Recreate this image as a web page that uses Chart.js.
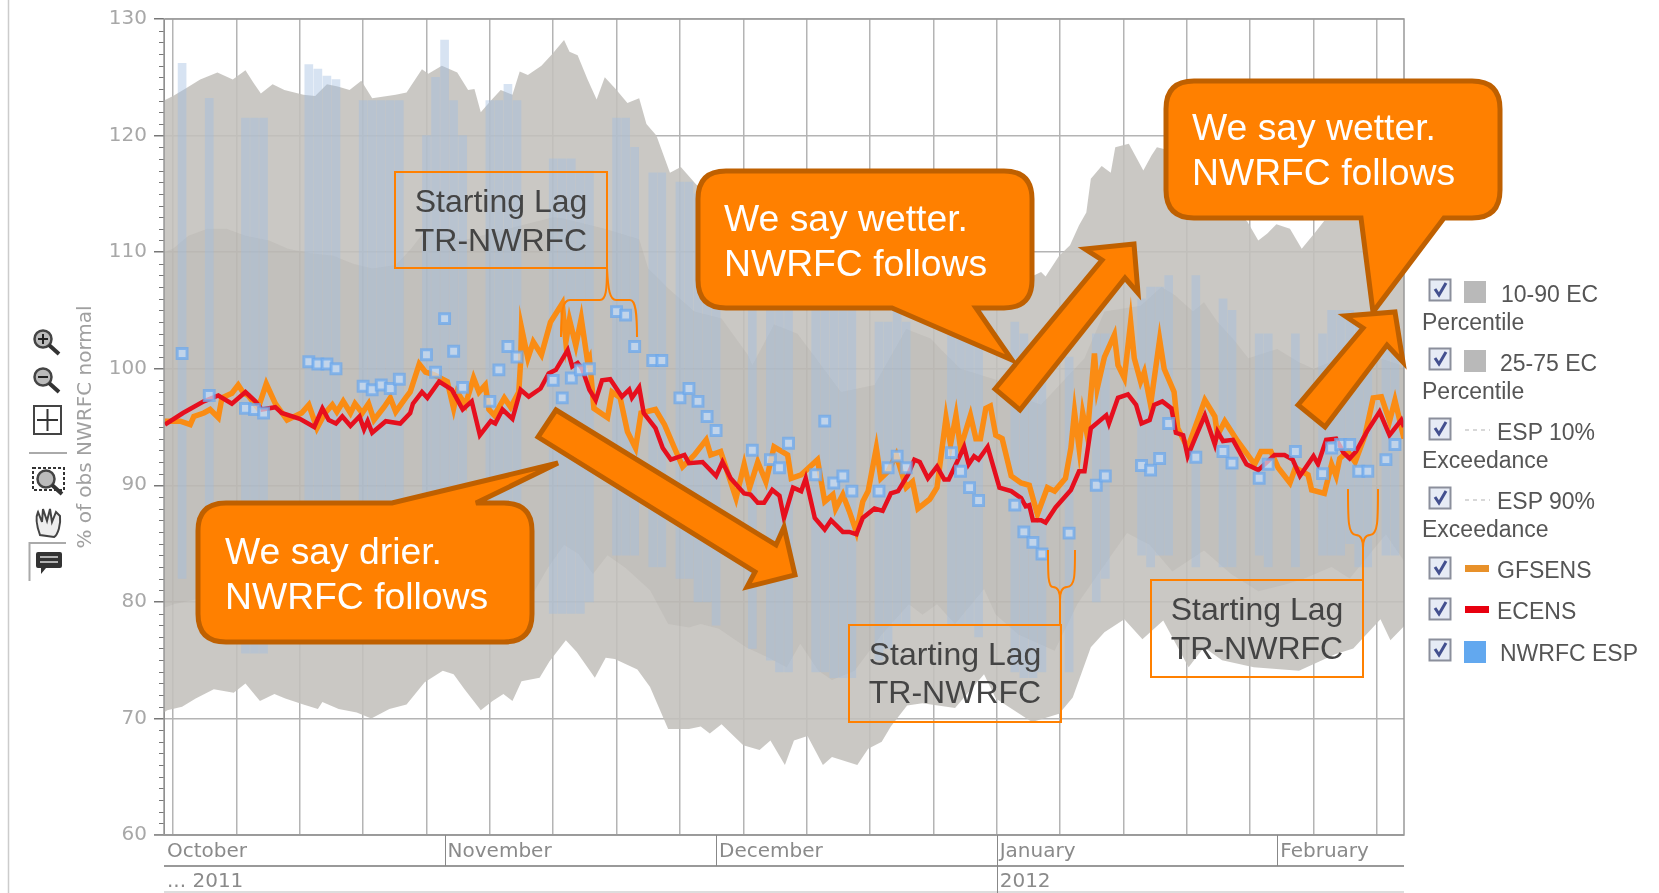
<!DOCTYPE html>
<html>
<head>
<meta charset="utf-8">
<title>% of obs NWRFC normal</title>
<script src="https://cdn.jsdelivr.net/npm/chart.js@4"></script>
<style>
  html, body { margin: 0; padding: 0; background: #fff; overflow: hidden; }
  #wrap { position: relative; width: 1659px; height: 893px; }
  #chart { position: absolute; left: 0; top: 0; filter: blur(0.6px); }
  #notes { position: absolute; left: 0; top: 0; }
  #notes text { font-family: "Liberation Sans", Arial, sans-serif; }
  .say { fill: #fff; font-size: 37.3px; }
  .lag { fill: #444; font-size: 32px; text-anchor: middle; }
  .leg { fill: #555; font-size: 23px; }
  .callout { fill: #ff8000; stroke: #bf6000; stroke-width: 5; stroke-linejoin: miter; }
  .lagbox { fill: none; stroke: #ff8000; stroke-width: 2; }
  .icon { fill: none; stroke: #444; stroke-width: 2; }
</style>
</head>
<body>
<div id="wrap">
<canvas id="chart" width="1659" height="893"></canvas>
<svg id="notes" width="1659" height="893" viewBox="0 0 1659 893">
  <defs>
    <g id="cb">
      <rect x="0.5" y="0.5" width="21" height="21" fill="#e6ebf5" stroke="#8b8f9c" stroke-width="2"/>
      <path d="M6 10 L10 16 L17 4" fill="none" stroke="#43508f" stroke-width="3"/>
    </g>
    <g id="lens">
      <circle cx="0" cy="0" r="8.5" fill="#bbb" stroke="#444" stroke-width="2.5"/>
      <path d="M6 6 L16 15" stroke="#333" stroke-width="4"/>
    </g>
  </defs>

  <!-- left rule and toolbar -->
  <path d="M8.5 0 V893" stroke="#ccc" stroke-width="1.5"/>
  <use href="#lens" x="43" y="339"/><path d="M38 339 H48 M43 334 V344" stroke="#222" stroke-width="2"/>
  <use href="#lens" x="43" y="377"/><path d="M38 377 H48" stroke="#222" stroke-width="2"/>
  <rect class="icon" x="34" y="406" width="27" height="28"/>
  <path d="M37 420 H58 M47.5 409 V431" stroke="#333" stroke-width="2"/>
  <path d="M29 453 H67" stroke="#aaa" stroke-width="2"/>
  <rect x="33" y="468" width="31" height="22" fill="none" stroke="#333" stroke-width="2" stroke-dasharray="3 2"/>
  <use href="#lens" x="46" y="479"/>
  <path d="M40 535 C36 524 36 516 38 512 L42 522 L43 509 L47 521 L50 509 L52 522 L56 512 L60 516 C61 524 58 535 54 537 Z" fill="#eee" stroke="#444" stroke-width="2"/>
  <path d="M66 543 H29.5 V581" fill="none" stroke="#aaa" stroke-width="2"/>
  <path d="M38 552 H60 Q62 552 62 554 V566 Q62 568 60 568 H46 L41 574 V568 H38 Q36 568 36 566 V554 Q36 552 38 552 Z" fill="#333"/>
  <path d="M40 557 H58 M40 562 H58" stroke="#ddd" stroke-width="1.5"/>

  <!-- lag brackets and boxes -->
  <g fill="none" stroke="#ff8000" stroke-width="2">
    <path d="M607 268 C607 290 606 300 600 300 H570 C563 300 561 310 561 337"/>
    <path d="M607 268 C608 290 610 300 616 300 H630 C636 300 637 315 637 337"/>
    <path d="M1060 625 V600 C1060 592 1058 587 1053 587 C1048 587 1048 575 1048 550"/>
    <path d="M1060 625 V600 C1060 592 1062 587 1067 587 C1075 587 1075 575 1075 550"/>
    <path d="M1363 580 V548 C1363 540 1361 535 1356 535 C1348 535 1348 520 1348 489"/>
    <path d="M1363 580 V548 C1363 540 1365 535 1370 535 C1378 535 1378 520 1378 489"/>
  </g>
  <rect class="lagbox" x="395" y="172" width="212" height="96"/>
  <text class="lag" x="501" y="212">Starting Lag</text>
  <text class="lag" x="501" y="251">TR-NWRFC</text>
  <rect class="lagbox" x="849" y="625" width="212" height="97"/>
  <text class="lag" x="955" y="665">Starting Lag</text>
  <text class="lag" x="955" y="703">TR-NWRFC</text>
  <rect class="lagbox" x="1151" y="580" width="212" height="97"/>
  <text class="lag" x="1257" y="620">Starting Lag</text>
  <text class="lag" x="1257" y="659">TR-NWRFC</text>

  <!-- callouts -->
  <path class="callout" d="M726 171 H1004 Q1032 171 1032 199 V280 Q1032 308 1004 308 H976 L1012 360 L892 308 H726 Q698 308 698 280 V199 Q698 171 726 171 Z"/>
  <text class="say" x="724" y="231">We say wetter.</text>
  <text class="say" x="724" y="276">NWRFC follows</text>
  <path class="callout" d="M1194 81 H1472 Q1500 81 1500 109 V190 Q1500 218 1472 218 H1444 L1373 312 L1361 218 H1194 Q1166 218 1166 190 V109 Q1166 81 1194 81 Z"/>
  <text class="say" x="1192" y="140">We say wetter.</text>
  <text class="say" x="1192" y="185">NWRFC follows</text>
  <path class="callout" d="M226 503 H392 L558 463 L476 503 H504 Q532 503 532 531 V614 Q532 642 504 642 H226 Q198 642 198 614 V531 Q198 503 226 503 Z"/>
  <text class="say" x="225" y="564">We say drier.</text>
  <text class="say" x="225" y="609">NWRFC follows</text>

  <!-- big arrows -->
  <path class="callout" d="M556 410 L776 545 L784 527 L795 575 L747 587 L755 572 L538 437 Z"/>
  <path class="callout" d="M995 389 L1102 260 L1085 249 L1134 244 L1138 293 L1125 278 L1020 410 Z"/>
  <path class="callout" d="M1298 405 L1363 328 L1345 316 L1395 312 L1403 362 L1387 345 L1325 427 Z"/>

  <!-- legend -->
  <use href="#cb" x="1429" y="279"/>
  <rect x="1464" y="281" width="22" height="22" fill="#b9b9b9"/>
  <text class="leg" x="1501" y="302">10-90 EC</text>
  <text class="leg" x="1422" y="330">Percentile</text>
  <use href="#cb" x="1429" y="348"/>
  <rect x="1464" y="350" width="22" height="22" fill="#b9b9b9"/>
  <text class="leg" x="1500" y="371">25-75 EC</text>
  <text class="leg" x="1422" y="399">Percentile</text>
  <use href="#cb" x="1429" y="418"/>
  <path d="M1465 430 H1490" stroke="#ccc" stroke-width="1.5" stroke-dasharray="4 4"/>
  <text class="leg" x="1497" y="440">ESP 10%</text>
  <text class="leg" x="1422" y="468">Exceedance</text>
  <use href="#cb" x="1429" y="487"/>
  <path d="M1465 500 H1490" stroke="#ccc" stroke-width="1.5" stroke-dasharray="4 4"/>
  <text class="leg" x="1497" y="509">ESP 90%</text>
  <text class="leg" x="1422" y="537">Exceedance</text>
  <use href="#cb" x="1429" y="557"/>
  <rect x="1465" y="565" width="24" height="7" fill="#e8912a"/>
  <text class="leg" x="1497" y="578">GFSENS</text>
  <use href="#cb" x="1429" y="598"/>
  <rect x="1465" y="606" width="24" height="7" fill="#e8000f"/>
  <text class="leg" x="1497" y="619">ECENS</text>
  <use href="#cb" x="1429" y="639"/>
  <rect x="1464" y="641" width="22" height="22" fill="#62a8ef"/>
  <text class="leg" x="1500" y="661">NWRFC ESP</text>
</svg>
</div>

<script>
// days are counted from 1 October 2011
const axisMaxDay = 137;
const weekDays = [1, 8, 15, 22, 29, 36, 43, 50, 57, 64, 71, 78, 85, 92, 99, 106, 113, 120, 127, 134];
const monthDays = [0, 31, 61, 92, 123];
const monthNames = ['October', 'November', 'December', 'January', 'February'];
const yearDays = [0, 92];
const yearNames = ['... 2011', '2012'];

// 10-90 EC Percentile
const p90Days = [0, 1, 2.3, 4, 5.9, 7.6, 9, 9.9, 10.7, 12, 13.3, 15.4, 16.7, 18, 19.2, 20.5, 21.8, 23, 25.6, 26.8, 28.5, 29.2, 30.7, 32.4, 33.6, 34.3, 35, 36, 37.2, 38.5, 39.3, 40.2, 41.7, 42.9, 44.2, 44.8, 45.7, 46.8, 47.8, 48.7, 49.9, 51.2, 52.5, 53.3, 54.4, 55.9, 57.1, 58.8, 62, 66, 70, 74, 78, 82, 86, 90, 93, 96.1, 96.9, 97.4, 98.9, 100.1, 101.1, 101.9, 102.4, 103.6, 104.6, 105.1, 106.6, 108.2, 109.1, 109.7, 110.7, 113, 116, 118, 119.7, 120.9, 121.9, 122.9, 124.4, 125.7, 127.2, 128.2, 132, 135, 137];
const p90Vals = [123, 123.4, 124, 124.8, 125.4, 124.8, 125.6, 124.5, 123.6, 124.4, 123.9, 123.5, 123.4, 124.4, 124.2, 123.9, 124.7, 123.2, 123.5, 123.7, 125.7, 125.3, 126, 125.4, 123.9, 124, 122, 122.9, 123.9, 123.5, 125.5, 125.2, 126, 127, 128.2, 127.2, 126.9, 124.8, 123.1, 125, 124, 122.8, 123.2, 121, 120, 116.8, 117.3, 115.8, 114, 112, 111, 111, 110, 110, 109, 108, 108, 108, 108.3, 107.9, 109.7, 110.6, 112.3, 113.4, 116.3, 117.4, 116.8, 119, 119.3, 117, 118.3, 119, 118.8, 117, 115, 114, 112.6, 111, 111.6, 112.4, 112, 110.3, 111.7, 112.7, 112.7, 112, 111.5];
const p10Days = [0, 0.35, 2, 3.5, 5.5, 7.7, 9, 10.6, 12.2, 13.4, 15.4, 17, 17.5, 19.3, 21.3, 22.9, 24.9, 26.8, 28.8, 30.8, 32, 33.2, 35, 36.3, 37.5, 38.5, 39.5, 41.5, 42.6, 44.4, 45.6, 47.6, 48.8, 49.8, 52.3, 53.7, 55.7, 58, 59.3, 60.3, 61.6, 64, 65.8, 67, 68.6, 69.6, 71.1, 72.8, 73.8, 76.6, 77.8, 79.3, 80.3, 82.1, 83.8, 87.4, 90.6, 91.9, 95.9, 98.9, 100.4, 102.4, 103.9, 106.1, 108.1, 110.4, 113.2, 114.9, 116.9, 120.4, 125.4, 129.4, 131.4, 134.4, 135.5, 137];
const p10Vals = [70.5, 70.7, 71, 71.7, 72.5, 72.2, 73, 71.5, 72.1, 71.7, 71.2, 70.8, 71.4, 70.8, 70.5, 70, 70.8, 71.2, 73.1, 74.1, 73.8, 72.5, 70.7, 71.5, 72.1, 71.5, 73.2, 73.5, 74.9, 76.7, 75.7, 73.5, 75.2, 75.1, 74.2, 72.7, 69.1, 69.1, 69.3, 68.7, 69.5, 67.7, 67.3, 68.1, 66, 68.1, 68.5, 66, 66.7, 66, 67.4, 68, 69.3, 71.1, 71.3, 70.9, 73.8, 71.7, 69.7, 70.4, 71.8, 76.1, 77.4, 78.5, 76.8, 78.4, 74.4, 76.1, 75, 74.4, 74.1, 75.5, 76, 78.5, 76.7, 77.9];

// 25-75 EC Percentile
const p75Days = [0, 1, 2.7, 4.8, 6.9, 9, 11.6, 13.7, 16.2, 18.7, 20.9, 23, 25.6, 27.3, 29, 33, 38, 43, 44, 48.7, 52.5, 53.5, 55.7, 58.6, 61.6, 64.5, 65, 67.4, 70, 74.8, 78.5, 82, 84.7, 85.8, 88, 92.1, 93, 96.9, 101.7, 103.9, 107.9, 110.2, 111.7, 113.7, 114.9, 116.4, 118.4, 119.8, 123, 125.3, 127, 132, 136.7, 137];
const p75Vals = [110, 110.3, 111.4, 112, 112, 111.4, 111, 110.3, 109.9, 109.7, 109, 108.6, 108.9, 110.3, 112, 111, 112, 113, 112.9, 112, 111.1, 108.6, 106.9, 104.9, 104.3, 101.2, 100.3, 103.8, 103, 98, 98.6, 103.4, 102.6, 101.7, 100, 99, 98, 96.9, 100.9, 104.9, 105.4, 107, 106.3, 104.9, 105.7, 104, 102.3, 100.9, 101.7, 100.6, 100, 101.5, 100.3, 100];
const p25Days = [0, 1.1, 8, 15, 22, 30, 36, 40.7, 42.4, 44.2, 45.8, 47.4, 49, 51, 53.7, 55.7, 58, 59.3, 61.3, 64.3, 66.8, 68.8, 70.3, 72.3, 73.8, 76.3, 79.3, 82.3, 83.8, 85.4, 87.4, 90.6, 91.9, 94.4, 98.4, 100.9, 103.4, 106.4, 108.9, 111.4, 114.9, 117.9, 120.9, 124, 126, 129, 131, 135, 137];
const p25Vals = [79.5, 79.8, 81, 80.5, 80, 81, 80.5, 80.6, 82.9, 84.9, 84.1, 82.4, 84, 82.9, 81, 78.1, 77.8, 78.1, 77.7, 76.1, 75.2, 74.4, 76.4, 74.1, 73.3, 74.1, 77.2, 79.8, 78.9, 79.8, 78.1, 81.1, 78.9, 77.2, 75.8, 79.8, 82.6, 85.9, 84.9, 82.6, 84.4, 82.4, 80.9, 81.5, 82, 83, 82, 85.8, 83.5];

// NWRFC ESP trace with its 10% and 90% exceedance
const espDays = [2, 5, 9, 10, 11, 16, 17, 18, 19, 22, 23, 24, 25, 26, 29, 30, 31, 32, 33, 36, 37, 38, 39, 43, 44, 45, 46, 47, 50, 51, 52, 54, 55, 57, 58, 59, 60, 61, 65, 67, 68, 69, 72, 73, 74, 75, 76, 79, 80, 81, 82, 87, 88, 89, 90, 94, 95, 96, 97, 100, 103, 104, 108, 109, 110, 111, 114, 117, 118, 121, 122, 125, 128, 129, 130, 131, 132, 133, 135, 136];
const espVals = [101.3, 97.7, 96.6, 96.5, 96.2, 100.6, 100.4, 100.4, 100, 98.5, 98.2, 98.6, 98.3, 99.1, 101.2, 99.7, 104.3, 101.5, 98.4, 97.2, 99.9, 101.9, 101, 99, 97.5, 99.2, 99.9, 100, 104.9, 104.6, 101.9, 100.7, 100.7, 97.5, 98.3, 97.2, 95.9, 94.7, 93, 92.2, 91.5, 93.6, 90.9, 95.5, 90.2, 90.8, 89.5, 89.5, 91.5, 92.5, 91.5, 92.8, 91.2, 89.8, 88.7, 88.3, 86, 85.1, 84.1, 85.9, 90, 90.8, 91.7, 91.3, 92.3, 95.3, 92.4, 92.9, 91.9, 90.6, 91.8, 92.9, 91, 93.2, 93.5, 93.5, 91.2, 91.2, 92.2, 93.5];
const espHigh = [126.2, 123.2, 121.5, 121.5, 121.5, 126.1, 125.7, 125.1, 124.8, 123, 123, 123, 123, 123, 120, 125, 128.2, 123, 120, 123, 123, 124.4, 123, 118, 118, 118, 117, 117, 121.5, 121.5, 119, 116.8, 116.8, 116, 116, 115, 112, 110, 108, 108, 106, 108, 106, 108, 106, 106, 105, 104, 104, 105, 104, 108, 108, 106, 105, 104, 103, 102, 100, 101, 103, 103, 106, 107, 107, 108, 108, 106, 105, 103, 103, 103, 103, 105, 105, 105, 104, 104, 104, 104];
const espLow = [82, 80, 75.6, 75.6, 75.6, 84, 84, 84, 83, 80, 80, 80, 80, 81, 84, 84, 84, 86, 85, 83, 83, 83, 83, 79, 79, 79, 79, 80, 84, 84, 84, 83, 83, 82, 82, 80, 80, 78, 76, 75, 74, 74, 74, 74, 73.5, 73.5, 73.5, 75, 76, 78, 78, 78, 78, 78, 77, 74, 73.5, 73.5, 74, 74, 80, 82, 84, 83, 84, 84, 83, 83, 83, 84, 83, 83, 84, 84, 84, 85, 83, 83, 84, 84];

// GFSENS
const gfsDays = [0.1, 1.8, 2.9, 3.3, 4.4, 5.1, 6, 6.4, 7.5, 8.2, 8.8, 9.3, 10.4, 11.3, 12.3, 13.6, 15.2, 16, 16.9, 17.8, 18.6, 19.1, 19.8, 20.6, 21.1, 21.9, 22.6, 23.2, 24.3, 25, 25.6, 26.7, 27.2, 28.2, 28.9, 29.8, 31.3, 32, 32.4, 33.3, 34.2, 34.8, 35.5, 35.9, 36.5, 37.6, 38.3, 39.2, 39.4, 39.5, 40.2, 40.8, 41.7, 42.7, 44, 44.4, 44.8, 45.5, 46.1, 46.8, 47, 47.5, 49, 49.5, 50.4, 51.2, 52.1, 52.7, 54.3, 55.3, 56.4, 57.3, 58.6, 59.9, 60.4, 61.5, 63.2, 64.1, 64.7, 65.6, 66.5, 67.4, 68.9, 69.3, 70.4, 72.2, 73, 73.9, 74.2, 75, 75.7, 76.5, 77.2, 77.8, 78.7, 79.2, 80, 80.9, 82, 82.7, 83.3, 84.6, 85.4, 86.4, 86.9, 87.5, 88, 89.1, 89.7, 90.2, 90.8, 91.3, 91.9, 92.6, 93.6, 94.7, 95.6, 96.5, 97.6, 98.4, 99.6, 100.2, 100.6, 101.1, 101.5, 102, 102.8, 103.1, 103.9, 105, 105.4, 106.1, 106.8, 107.2, 107.9, 108.3, 109, 110, 110.5, 111.6, 112, 113.1, 115, 116.1, 116.4, 117.2, 118.6, 120.5, 121.2, 122.3, 123.1, 124.4, 125, 126.4, 126.8, 128.2, 129, 129.5, 129.9, 130.8, 131.6, 132.7, 133.6, 134.5, 135.4, 136, 137];
const gfsVals = [95.5, 95.5, 95.2, 95.9, 96.2, 96.5, 95.8, 97.5, 97.9, 98.6, 97.9, 97.7, 96.6, 98.7, 97, 95.6, 96.2, 96.9, 94.9, 96.2, 96.9, 96.3, 97.2, 96.2, 97, 96.2, 97, 95.6, 96.7, 97.5, 96.3, 97.5, 98, 100.4, 99.7, 99.5, 98.9, 96.6, 98, 96.9, 99.2, 98, 98.6, 96.5, 96, 97.5, 96.7, 98, 100.6, 103.5, 100.9, 102.3, 101.2, 104, 105.6, 102.3, 104.2, 102, 104.3, 100.6, 100.9, 96.6, 95.8, 98, 97.5, 94.6, 93.2, 96.2, 96.5, 95.2, 93.2, 91.6, 92.6, 93.9, 92.6, 92.9, 88.9, 91.8, 89.8, 92, 90.3, 93.3, 92.6, 90.6, 90.9, 92.2, 88.6, 89.2, 88, 89.2, 87.8, 86, 88.6, 89.5, 93.2, 90.6, 91.2, 92.6, 89.8, 90.3, 88, 88.8, 89.8, 95.8, 93.5, 96, 93.2, 96, 94, 94, 96.6, 96.8, 94.3, 94, 90.8, 90.2, 90, 87.5, 89.8, 89.5, 90.6, 93.2, 96.3, 93.2, 96.2, 94.3, 101.3, 98.3, 101, 102.9, 100.3, 99.2, 104, 100.9, 98.9, 99.7, 96.9, 102.5, 100, 98, 94.9, 93.2, 97.3, 95.9, 94.3, 95.5, 93.8, 91.8, 92.9, 92.9, 91.5, 90.2, 91.5, 90.9, 89.6, 89.3, 91.8, 90.8, 92.3, 92.9, 92, 94.3, 97.5, 97.6, 95.5, 97.3, 94];

// ECENS
const ecDays = [0.1, 2.1, 4.4, 6, 7.5, 9, 10.1, 10.8, 12.3, 13, 15, 16.6, 17.5, 18.2, 19, 19.7, 20.6, 21.6, 22.1, 22.5, 23, 24.5, 26.1, 27.2, 27.5, 28.5, 29.1, 30.4, 31.8, 33, 34, 34.9, 36.1, 36.6, 37.4, 38.5, 39.4, 40.3, 41.6, 42.5, 43.3, 44.6, 45.1, 45.7, 46.2, 47, 47.7, 48.4, 49.3, 50.6, 51.4, 51.7, 52.5, 53, 54.3, 55.1, 56, 57.5, 58, 59.5, 61, 61.7, 62.6, 64.1, 64.8, 65.6, 66.3, 67.2, 68, 68.5, 69.5, 70.4, 70.9, 71.9, 73, 73.7, 75, 75.7, 76.5, 77.2, 78.5, 79.4, 80.3, 81.1, 82.2, 82.9, 83.5, 84.4, 85.4, 86.2, 86.7, 87.5, 88.4, 88.9, 89.5, 90, 91, 92.3, 93.6, 94.7, 95.2, 95.6, 96, 96.9, 97.4, 98.5, 100.2, 101.1, 101.7, 102.4, 104.1, 104.4, 105.4, 106.5, 107.4, 108, 108.9, 109.4, 110.3, 111.3, 111.8, 112.6, 113.1, 113.9, 115, 116.1, 116.4, 117, 118.1, 119.6, 120.9, 121.6, 122.7, 123.8, 124.7, 125.5, 127, 127.5, 128.4, 129.5, 130.3, 131, 131.7, 132.9, 134.3, 135.4, 136.7, 137];
const ecVals = [95.2, 96.2, 97.2, 97.7, 97, 98, 97.2, 96.5, 96.7, 96.2, 95.7, 95, 96.6, 95.6, 95.3, 95.9, 95.1, 95.9, 94.8, 95.5, 94.5, 95.5, 95.3, 96.2, 97, 98, 97.5, 98.9, 98.2, 96.5, 97.2, 94.3, 95.5, 95.3, 96.5, 95.7, 98.2, 97.6, 98.3, 99.6, 99.9, 101.6, 100.2, 100.5, 100, 98.2, 97.3, 99, 99.1, 97.6, 98.2, 97.5, 98.4, 96.2, 94.9, 93.2, 92.2, 92.6, 91.9, 92, 90.8, 92, 90.6, 89.3, 89.2, 88.5, 88.5, 89.6, 89.1, 87.2, 89.8, 89.5, 90.6, 87.2, 86.2, 87, 86, 86, 85.8, 87.2, 88, 87.8, 89.3, 89.5, 90.9, 92.2, 92, 90.6, 91.6, 90.5, 90.5, 91.8, 93.3, 91.8, 92.5, 92.2, 93.3, 89.8, 89.5, 88.9, 88.2, 88.3, 87, 87, 86.8, 88.1, 89.6, 91.2, 91.2, 94.9, 96, 95.3, 97.5, 97.8, 96.9, 95.3, 95.6, 96.9, 97.2, 96.6, 94.5, 94.3, 92.5, 94, 96, 93.5, 94.6, 93.8, 93.9, 91.8, 91.3, 91.8, 92.6, 92.6, 92.2, 90.8, 92.5, 91.8, 93.9, 94, 92.8, 92.3, 92.9, 94.6, 96.3, 94.3, 95.6, 95];

const yTitle = '% of obs NWRFC normal';
const yMinorValues = [];
for (let v = 60; v <= 130; v++) if (v % 10) yMinorValues.push(v);

const toXY = (days, vals) => days.map((d, i) => ({ x: d, y: vals[i] }));
const bandLine = (label, days, vals, fill, color) => ({
    type: 'line', label, data: toXY(days, vals), fill, backgroundColor: color,
    borderWidth: 0, pointRadius: 0, tension: 0
});

// month and year rows: rules that Chart.js has no option for, plus the minor y ticks and frame
const framePlugin = {
    id: 'frame',
    afterDraw(chart) {
        const { ctx, chartArea: a, scales } = chart;
        const bottom = a.bottom + 31;
        ctx.save();
        ctx.strokeStyle = '#777';
        ctx.lineWidth = 1;
        yMinorValues.forEach(v => {
            const y = Math.round(scales.y.getPixelForValue(v)) + 0.5;
            ctx.beginPath(); ctx.moveTo(a.left - 5, y); ctx.lineTo(a.left, y); ctx.stroke();
        });
        ctx.strokeStyle = '#999';
        ctx.lineWidth = 1.5;
        ctx.strokeRect(a.left, a.top, a.right - a.left, a.bottom - a.top);
        ctx.beginPath(); ctx.moveTo(a.left - 10, a.bottom); ctx.lineTo(a.right, a.bottom); ctx.stroke();
        ctx.lineWidth = 2;
        ctx.strokeStyle = '#999';
        ctx.beginPath(); ctx.moveTo(a.left, bottom); ctx.lineTo(a.right, bottom); ctx.stroke();
        ctx.lineWidth = 1;
        ctx.strokeStyle = '#bbb';
        ctx.beginPath(); ctx.moveTo(a.left, 892); ctx.lineTo(a.right, 892); ctx.stroke();
        ctx.strokeStyle = '#888';
        monthDays.slice(1).forEach(d => {
            const x = Math.round(scales.xMonth.getPixelForValue(d)) + 0.5;
            ctx.beginPath(); ctx.moveTo(x, a.bottom); ctx.lineTo(x, bottom); ctx.stroke();
        });
        yearDays.slice(1).forEach(d => {
            const x = Math.round(scales.xYear.getPixelForValue(d)) + 0.5;
            ctx.beginPath(); ctx.moveTo(x, bottom); ctx.lineTo(x, 893); ctx.stroke();
        });
        ctx.restore();
    }
};

const labelAxis = (weight, height, days, names, padding) => ({
    type: 'linear', position: 'bottom', weight, min: 0, max: axisMaxDay, offset: false,
    grid: { display: false, drawTicks: false, tickLength: 0 }, border: { display: false },
    afterBuildTicks: s => { s.ticks = days.map(d => ({ value: d })); },
    afterFit: s => { s.height = height; },
    ticks: {
        align: 'start', labelOffset: 3, padding, maxRotation: 0, autoSkip: false,
        color: '#8a8a8a', font: { family: 'DejaVu Sans', size: 20 },
        callback: v => names[days.indexOf(v)]
    }
});

new Chart(document.getElementById('chart'), {
    type: 'line',
    plugins: [framePlugin],
    data: {
        datasets: [
            { ...bandLine('10-90 EC Percentile', p90Days, p90Vals, '+1', 'rgba(195,192,188,0.88)'), order: 10 },
            { ...bandLine('10-90 low', p10Days, p10Vals, false, 'transparent'), order: 9 },
            { ...bandLine('25-75 EC Percentile', p75Days, p75Vals, '+1', 'rgba(165,160,155,0.2)'), order: 8 },
            { ...bandLine('25-75 low', p25Days, p25Vals, false, 'transparent'), order: 7 },
            {
                type: 'bar', label: 'ESP 10-90% Exceedance', order: 6,
                data: espDays.map((d, i) => ({ x: d, y: [espLow[i], espHigh[i]] })),
                backgroundColor: 'rgba(159,188,225,0.42)', barThickness: 8
            },
            {
                type: 'line', label: 'GFSENS', order: 3, data: toXY(gfsDays, gfsVals),
                borderColor: '#fa8c14', borderWidth: 5.5, pointRadius: 0, tension: 0, fill: false
            },
            {
                type: 'line', label: 'ECENS', order: 2, data: toXY(ecDays, ecVals),
                borderColor: '#e60f1e', borderWidth: 4.5, pointRadius: 0, tension: 0, fill: false
            },
            {
                type: 'line', label: 'NWRFC ESP', order: 1, data: toXY(espDays, espVals),
                showLine: false, pointStyle: 'rect', pointRadius: 7, pointBorderWidth: 3,
                pointBackgroundColor: 'rgba(200,222,248,0.7)', pointBorderColor: 'rgba(110,168,235,0.75)'
            }
        ]
    },
    options: {
        responsive: false,
        animation: false,
        layout: { padding: { left: 74, right: 255, top: 16, bottom: 0 } },
        plugins: { legend: { display: false }, tooltip: { enabled: false } },
        scales: {
            x: {
                type: 'linear', position: 'bottom', weight: 0, min: 0, max: axisMaxDay, offset: false,
                afterBuildTicks: s => { s.ticks = weekDays.map(d => ({ value: d })); },
                afterFit: s => { s.height = 0; },
                grid: { color: '#b4b4b4', lineWidth: 1.5, drawTicks: false, offset: false },
                border: { display: false },
                ticks: { display: false }
            },
            xMonth: labelAxis(1, 31, monthDays, monthNames, 5),
            xYear: labelAxis(2, 27, yearDays, yearNames, 4),
            y: {
                min: 60, max: 130,
                afterFit: s => { s.width = 90; },
                title: { display: true, text: yTitle, color: '#a0a0a0', font: { family: 'DejaVu Sans', size: 20 }, padding: 0 },
                grid: { color: '#b4b4b4', lineWidth: 1.5, tickLength: 10, tickColor: '#777' },
                border: { color: '#777' },
                ticks: { stepSize: 10, padding: 7, color: '#a8a8a8', font: { family: 'DejaVu Sans', size: 20 } }
            }
        }
    }
});
</script>
</body>
</html>
